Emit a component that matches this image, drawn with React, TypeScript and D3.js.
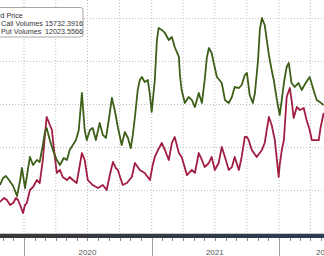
import React from "react";
import * as d3 from "d3";

const callDates = ["2019-10-24","2019-11-02","2019-11-10","2019-11-19","2019-12-01","2019-12-12","2019-12-21","2019-12-26","2020-01-04","2020-01-12","2020-01-18","2020-01-27","2020-02-07","2020-02-15","2020-02-24","2020-03-01","2020-03-06","2020-03-15","2020-03-24","2020-04-04","2020-04-13","2020-04-24","2020-05-03","2020-05-11","2020-05-20","2020-05-29","2020-06-06","2020-06-15","2020-06-23","2020-06-29","2020-07-08","2020-07-16","2020-07-25","2020-08-05","2020-08-14","2020-08-23","2020-08-31","2020-09-09","2020-09-17","2020-09-26","2020-10-07","2020-10-16","2020-10-25","2020-11-02","2020-11-08","2020-11-14","2020-11-22","2020-11-28","2020-12-04","2020-12-12","2020-12-21","2020-12-27","2021-01-01","2021-01-10","2021-01-16","2021-01-21","2021-01-30","2021-02-08","2021-02-19","2021-02-28","2021-03-08","2021-03-14","2021-03-20","2021-03-23","2021-03-28","2021-04-06","2021-04-17","2021-04-26","2021-05-05","2021-05-16","2021-05-25","2021-06-02","2021-06-08","2021-06-14","2021-06-22","2021-06-28","2021-07-07","2021-07-21","2021-07-30","2021-08-10","2021-08-19","2021-08-27","2021-09-08","2021-09-16","2021-09-25","2021-10-01","2021-10-09","2021-10-18","2021-10-24","2021-11-02","2021-11-07","2021-11-13","2021-11-21","2021-11-27","2021-12-03","2021-12-11","2021-12-17","2021-12-26","2022-01-03","2022-01-09","2022-01-15","2022-01-23","2022-01-29","2022-02-06","2022-02-15","2022-02-26","2022-03-07","2022-03-15","2022-03-24","2022-03-30","2022-04-10","2022-04-19","2022-04-28","2022-05-09"];
const callValues = [5580,6400,6630,6160,5470,4300,6160,7560,5230,7330,8840,7910,8490,8260,10230,11740,12210,10810,9650,8490,7910,8720,8490,9650,10230,10810,11980,16280,11980,10810,11980,12210,10810,12790,11400,11050,13140,15700,14300,12330,10230,11740,11050,9880,11400,13490,16630,17790,18140,17560,17790,16050,14070,17790,22440,23840,23610,23260,22440,22790,21630,21050,20470,18370,16630,15120,15810,15470,14650,16280,15120,17790,20350,21510,20930,19770,18140,17440,15470,15120,15810,16980,16860,17210,18370,18610,16050,15120,16280,20120,23610,25000,24190,22440,20700,18950,17790,15470,13720,15470,17440,19300,19770,17440,16980,17440,16630,17210,17790,18140,16630,15470,15230,14880];

const putDates = ["2019-10-24","2019-11-05","2019-11-13","2019-11-22","2019-12-01","2019-12-09","2019-12-15","2019-12-23","2019-12-29","2020-01-04","2020-01-09","2020-01-18","2020-01-27","2020-02-07","2020-02-15","2020-02-24","2020-03-01","2020-03-06","2020-03-12","2020-03-15","2020-03-21","2020-03-27","2020-04-04","2020-04-13","2020-04-21","2020-05-03","2020-05-11","2020-05-20","2020-05-31","2020-06-09","2020-06-15","2020-06-23","2020-07-02","2020-07-16","2020-07-31","2020-08-14","2020-08-25","2020-09-03","2020-09-12","2020-09-20","2020-09-26","2020-10-10","2020-10-22","2020-11-05","2020-11-14","2020-11-28","2020-12-12","2020-12-27","2021-01-04","2021-01-10","2021-01-19","2021-01-24","2021-01-30","2021-02-08","2021-02-19","2021-02-28","2021-03-08","2021-03-20","2021-03-28","2021-04-12","2021-04-26","2021-05-05","2021-05-16","2021-05-25","2021-06-02","2021-06-14","2021-06-22","2021-07-01","2021-07-12","2021-07-21","2021-07-30","2021-08-10","2021-08-19","2021-08-27","2021-09-08","2021-09-16","2021-09-25","2021-10-01","2021-10-06","2021-10-15","2021-10-29","2021-11-13","2021-11-21","2021-11-27","2021-12-03","2021-12-11","2021-12-20","2021-12-26","2021-12-31","2022-01-03","2022-01-09","2022-01-15","2022-01-23","2022-02-01","2022-02-06","2022-02-12","2022-02-21","2022-03-02","2022-03-13","2022-03-21","2022-03-30","2022-04-05","2022-04-13","2022-04-25","2022-04-30","2022-05-09"];
const putValues = [3610,4070,3840,3260,3490,4070,3840,3020,2330,3260,3490,5000,5350,6160,5810,8490,11400,13490,12910,12560,11980,9650,6980,7330,6510,6160,6510,6160,5810,7910,9300,8490,6160,5580,5230,5580,5000,6740,8260,7560,7330,5580,5810,6510,8140,7330,6980,6160,7910,8840,9650,10000,10470,9650,8490,10470,11160,9300,8840,6740,7330,6980,9300,8490,7670,8140,8840,7330,8140,10000,8840,7330,7670,8840,7330,8840,11160,11160,10810,9650,8840,9650,10470,11980,13490,12560,10810,8490,6510,7910,9650,10810,15810,16860,15470,13370,14650,14300,14540,13140,11980,10810,10810,10810,12210,13950];

const legendLabels = ["Bid Price", "Call Volumes", "Put Volumes"];
const legendValues = ["", "15732.3916", "12023.5566"];
const yTicks = [5000, 10000, 15000, 20000, 25000];
const yearLabels = ["2020", "2021", "2022"];

const W = 324, H = 256;

export default function App() {
  const parse = d3.timeParse("%Y-%m-%d");
  const x = d3.scaleTime()
    .domain([new Date(2020, 0, 1), new Date(2022, 0, 1)])
    .range([24, 279]);
  const y = d3.scaleLinear().domain([0, 25000]).range([233, 18]);

  const callData = callDates.map((d, i) => ({ d: parse(d) as Date, v: callValues[i] }));
  const putData = putDates.map((d, i) => ({ d: parse(d) as Date, v: putValues[i] }));
  const line = d3.line<{ d: Date; v: number }>().x(p => x(p.d)).y(p => y(p.v)).curve(d3.curveLinear);

  const x0 = x.invert(-20), x1 = x.invert(W + 20);
  const quarters = d3.timeMonth.every(3)!.range(x0, x1);
  const months = d3.timeMonth.range(x0, x1);
  const years = d3.timeYear.range(x0, x1);
  const yearCenters = [x(new Date(2020, 6, 1)), x(new Date(2021, 6, 1)), 325];

  const font = "'Liberation Sans', Arial, sans-serif";

  return (
    <svg width={W} height={H} style={{ position: "absolute", left: 0, top: 0, background: "#fff" }}>
      <defs>
        <linearGradient id="band" x1="0" x2="1" y1="0" y2="0">
          <stop offset="0" stopColor="#383838" />
          <stop offset="0.5" stopColor="#323a44" />
          <stop offset="1" stopColor="#2c3c54" />
        </linearGradient>
      </defs>
      <rect x={0} y={0} width={W} height={H} fill="#fff" />
      {quarters.map((q, i) => (
        <line key={"vq" + i} x1={x(q)} x2={x(q)} y1={0} y2={233} stroke="#bdbdbd" strokeWidth={1} strokeDasharray="1,2" />
      ))}
      {yTicks.map((t, i) => (
        <line key={"hy" + i} x1={0} x2={W} y1={Math.round(y(t)) + 0.5} y2={Math.round(y(t)) + 0.5} stroke="#bdbdbd" strokeWidth={1} strokeDasharray="1,2" />
      ))}
      <path d={line(putData) || ""} fill="none" stroke="#a11d42" strokeWidth={1.8} strokeLinejoin="round" />
      <path d={line(callData) || ""} fill="none" stroke="#3d5f17" strokeWidth={1.8} strokeLinejoin="round" />
      <line x1={0} x2={W} y1={233.5} y2={233.5} stroke="#c8c8c8" strokeWidth={1} />
      <rect x={0} y={234} width={W} height={4} fill="url(#band)" />
      {months.map((m, i) => (
        <line key={"mt" + i} x1={Math.round(x(m)) + 0.5} x2={Math.round(x(m)) + 0.5} y1={238} y2={241} stroke="#8a8a8a" strokeWidth={1} />
      ))}
      {years.map((yr, i) => (
        <line key={"yt" + i} x1={Math.round(x(yr)) + 0.5} x2={Math.round(x(yr)) + 0.5} y1={238} y2={256} stroke="#a0a0a0" strokeWidth={1} />
      ))}
      {yearLabels.map((l, i) => (
        <text key={"yl" + i} x={yearCenters[i]} y={255} textAnchor="middle" fontFamily={font} fontSize={8} fill="#555">{l}</text>
      ))}
      <rect x={-10} y={7.5} width={93} height={29.5} rx={2.5} fill="#fff" stroke="#a8a8a8" strokeWidth={1} />
      {legendLabels.map((l, i) => (
        <g key={"lg" + i}>
          <text x={i === 0 ? -6 : 1} y={18 + i * 8.2} fontFamily={font} fontSize={7.2} fill="#333">{l}</text>
          {legendValues[i] && (
            <text x={45} y={18 + i * 8.2} fontFamily={font} fontSize={7.2} fill="#333">{legendValues[i]}</text>
          )}
        </g>
      ))}
    </svg>
  );
}
